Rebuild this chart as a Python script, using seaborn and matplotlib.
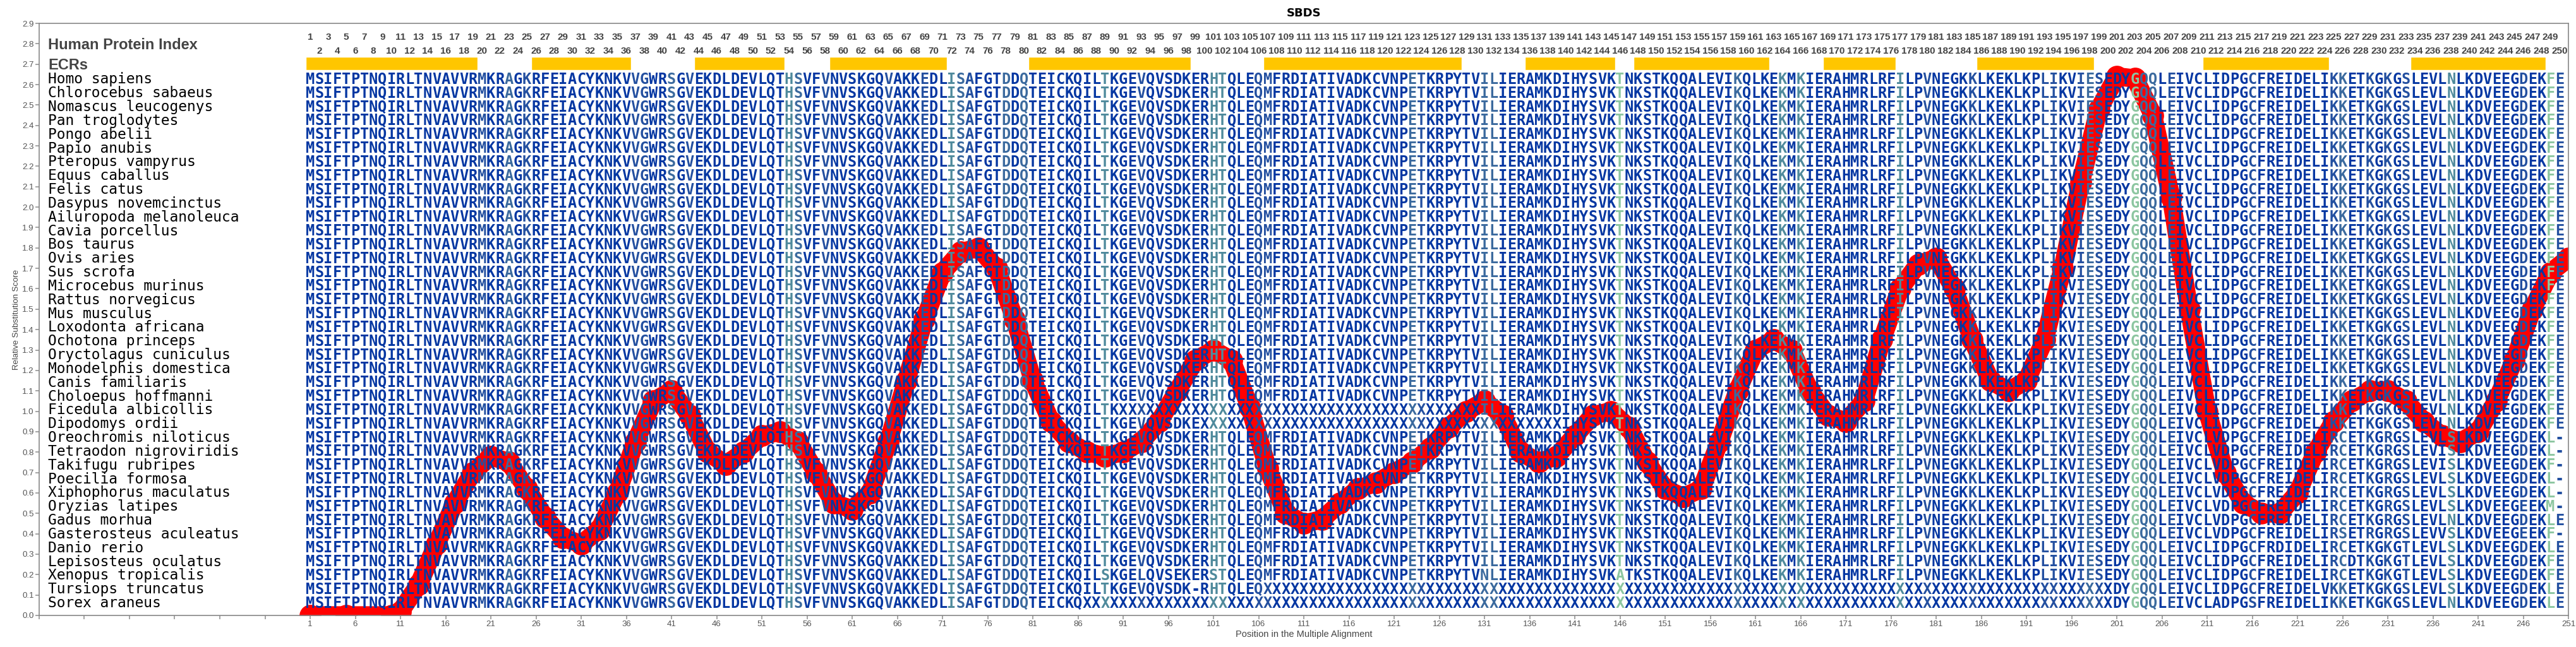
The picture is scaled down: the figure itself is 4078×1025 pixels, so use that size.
import numpy as np
import pandas as pd
import seaborn as sns
import matplotlib.pyplot as plt

# --- data ---
species = [
    "Homo sapiens", "Chlorocebus sabaeus", "Nomascus leucogenys", "Pan troglodytes",
    "Pongo abelii", "Papio anubis", "Pteropus vampyrus", "Equus caballus", "Felis catus",
    "Dasypus novemcinctus", "Ailuropoda melanoleuca", "Cavia porcellus", "Bos taurus",
    "Ovis aries", "Sus scrofa", "Microcebus murinus", "Rattus norvegicus", "Mus musculus",
    "Loxodonta africana", "Ochotona princeps", "Oryctolagus cuniculus",
    "Monodelphis domestica", "Canis familiaris", "Choloepus hoffmanni",
    "Ficedula albicollis", "Dipodomys ordii", "Oreochromis niloticus",
    "Tetraodon nigroviridis", "Takifugu rubripes", "Poecilia formosa",
    "Xiphophorus maculatus", "Oryzias latipes", "Gadus morhua",
    "Gasterosteus aculeatus", "Danio rerio", "Lepisosteus oculatus",
    "Xenopus tropicalis", "Tursiops truncatus", "Sorex araneus",
]

human_seq = ("MSIFTPTNQIRLTNVAVVRMKRAGKRFEIACYKNKVVGWRSGVEKDLDEV"
             "LQTHSVFVNVSKGQVAKKEDLISAFGTDDQTEICKQILTKGEVQVSDKER"
             "HTQLEQMFRDIATIVADKCVNPETKRPYTVILIERAMKDIHYSVKTNKST"
             "KQQALEVIKQLKEKMKIERAHMRLRFILPVNEGKKLKEKLKPLIKVIESE"
             "DYGQQLEIVCLIDPGCFREIDELIKKETKGKGSLEVLNLKDVEEGDEKFE")

# differences from the human row: species -> [(first position, residues)]
seq_patches = {
    "Ficedula albicollis": [(91, "X" * 40)],
    "Dipodomys ordii": [(100, "X" * 40)],
    "Oreochromis niloticus": [(212, "VDPGCFREIDELIRCETKGRGSLEVLSLKDVEEGDEKL-")],
    "Tetraodon nigroviridis": [(212, "VDPGCFREIDELIRCETKGRGSLEVISLKDVEEGDEKL-")],
    "Takifugu rubripes": [(212, "VDPGCFREIDELIRCETKGRGSLEVISLKDVEEGDEKF-")],
    "Poecilia formosa": [(212, "VDPGCFREIDELIRCETKGRGSLEVLSLKDVEEGDEKL-")],
    "Xiphophorus maculatus": [(212, "VDPGCFREIDELIRCETKGRGSLEVLSLKDVEEGDEKL-")],
    "Oryzias latipes": [(212, "VDPGCFREIDELIRCETKGRGSLEVLSLKDVEEGEEKM-")],
    "Gadus morhua": [(212, "VDPGCFREIDELIRCETKGRGSLEVLNLKDVEEGDEKLE")],
    "Gasterosteus aculeatus": [(212, "VDPGCFREIDELIRSETRGRGSLEVVSLKDVEEGEEKF-")],
    "Danio rerio": [(212, "IDPGCFRDIDELIRCETKGKGTLEVLSLKDVEEGDEKLE")],
    "Lepisosteus oculatus": [(212, "IDPGCFREIDELIRCDTKGKGTLEVLSLKDVEEGDEKFE")],
    "Xenopus tropicalis": [(86, "QILSKGELQVSEKERSTQLEQMFRDIATIVADKCVNPETKRPYTVNLIERAMKDIHYSVKAT"),
                           (212, "IDPGCFREIDELIRCETKGKGTLEVLSLKDVEEGDEKFE")],
    "Tursiops truncatus": [(99, "-"), (107, "X" * 94),
                           (212, "IDPGCFREIDELVKKETKGKGSLEVLSLKDVEEGDEKLE")],
    "Sorex araneus": [(87, "X" * 114),
                      (212, "ADPGSFREIDELIKKETKGKGSLEVLNLKDVEEGDEKLE")],
}

# conservation class of each alignment column (0 = fully conserved ... 4 = variable)
column_class = ("0000000000" "0000000001" "0020100000" "0000001100" "2010000000"
                "0003200100" "0000100010" "0321000202" "0000000030" "0010000000"
                "3300011000" "0000000000" "0021000000" "2200000000" "0000040000"
                "0000000020" "0003030000" "0000003001" "0000100000" "0011001210"
                "0042201000" "0000010000" "0000120010" "1010000300" "0000010041")

ecr_start = [1, 26, 44, 59, 81, 107, 136, 148, 169, 186, 211, 234]
ecr_end = [19, 36, 53, 71, 98, 128, 145, 162, 176, 198, 224, 248]

score_pos = [1, 5, 10, 11, 13, 15, 17, 19, 21, 23, 25, 27, 29, 31, 33, 35, 37, 39, 41, 43,
             45, 47, 49, 51, 53, 55, 57, 59, 61, 63, 65, 67, 69, 71, 73, 75, 77, 79, 81, 83,
             85, 87, 89, 91, 93, 95, 97, 99, 101, 103, 105, 107, 109, 111, 113, 115, 117, 119,
             121, 123, 125, 127, 129, 131, 133, 135, 137, 139, 141, 143, 145, 147, 149, 151,
             153, 155, 157, 159, 161, 163, 165, 167, 169, 171, 173, 175, 177, 179, 181, 183,
             185, 187, 189, 191, 193, 195, 197, 199, 201, 203, 205, 207, 209, 211, 213, 215,
             217, 219, 221, 223, 225, 227, 229, 231, 233, 235, 237, 239, 241, 243, 245, 247,
             249, 251]
score_val = [0, 0, 0, 0.02, 0.15, 0.35, 0.55, 0.7, 0.78, 0.75, 0.62, 0.48, 0.38, 0.35, 0.42,
             0.6, 0.85, 1.05, 1.1, 0.98, 0.8, 0.74, 0.8, 0.88, 0.9, 0.85, 0.7, 0.55, 0.52, 0.6,
             0.85, 1.15, 1.45, 1.68, 1.78, 1.8, 1.7, 1.45, 1.15, 0.95, 0.85, 0.8, 0.78, 0.8,
             0.85, 0.95, 1.1, 1.25, 1.3, 1.25, 1.02, 0.72, 0.5, 0.45, 0.47, 0.55, 0.62, 0.65,
             0.7, 0.75, 0.82, 0.92, 1.0, 1.05, 0.98, 0.8, 0.75, 0.78, 0.88, 0.98, 1.0, 0.92,
             0.75, 0.62, 0.58, 0.62, 0.85, 1.1, 1.3, 1.35, 1.3, 1.1, 0.98, 0.95, 1.05, 1.35,
             1.6, 1.72, 1.75, 1.6, 1.35, 1.15, 1.1, 1.15, 1.35, 1.7, 2.12, 2.48, 2.64, 2.63,
             2.45, 2.05, 1.5, 1.0, 0.7, 0.55, 0.5, 0.5, 0.6, 0.8, 0.95, 1.05, 1.1, 1.1, 1.05,
             0.95, 0.88, 0.85, 0.9, 1.05, 1.25, 1.5, 1.68, 1.75]

class_colors = ["#0537a2", "#2450a0", "#3b6a9e", "#4f8a9c", "#8cc6a0"]
gray = "#444444"
narrow = ["Liberation Sans Narrow", "Liberation Sans", "DejaVu Sans"]
wide = ["Liberation Sans", "DejaVu Sans"]


def build_row(name):
    row = list(human_seq)
    for start, res in seq_patches.get(name, []):
        row[start - 1:start - 1 + len(res)] = list(res)
    return "".join(row)


sns.set_theme(style="white")
plt.rcParams["font.family"] = ["DejaVu Sans"]

fig = plt.figure(figsize=(40.78, 10.25), dpi=100)
ax = fig.add_axes([0.0152, 0.0488, 0.9819, 0.9151])

# substitution score curve
df = pd.DataFrame({"pos": score_pos, "score": score_val})
sns.lineplot(data=df, x="pos", y="score", ax=ax, color="#ff0000", lw=21,
             marker="o", markersize=25, markeredgewidth=0, zorder=2)

# ECR bars
ax.barh(y=2.7035, width=np.array(ecr_end) - np.array(ecr_start) + 1,
        left=np.array(ecr_start) - 0.5, height=0.065, color="#ffc600", zorder=1)

# column numbers
for i in range(1, len(human_seq) + 1):
    ax.text(i, 2.832 if i % 2 else 2.764, str(i), ha="center", va="center",
            fontsize=11, fontweight="bold", color=gray, family=narrow, zorder=3)

ax.text(-28, 2.792, "Human Protein Index", ha="left", va="center", fontsize=17,
        fontweight="bold", color=gray, family=wide)
ax.text(-28, 2.693, "ECRs", ha="left", va="center", fontsize=17,
        fontweight="bold", color=gray, family=wide)

# alignment rows
row_y0, row_step = 2.625, 0.0675
for r, name in enumerate(species):
    y = row_y0 - r * row_step
    ax.text(-28, y, name, ha="left", va="center", fontsize=16.5,
            family="DejaVu Sans Mono", color="black")
    seq = build_row(name)
    for i, ch in enumerate(seq):
        ax.text(i + 1, y, ch, ha="center", va="center", fontsize=17,
                family="DejaVu Sans Mono", fontweight="bold",
                color=class_colors[int(column_class[i])], zorder=3)

ax.set_xlim(-29, 251)
ax.set_ylim(0, 2.9)
xt = np.arange(-29, 252, 5)
ax.set_xticks(xt)
ax.set_xticklabels([str(t) if t >= 1 else "" for t in xt], fontsize=9.5, color="#555555",
                   family=narrow)
yt = np.round(np.arange(0, 2.91, 0.1), 1)
ax.set_yticks(yt)
ax.set_yticklabels([f"{t:.1f}" for t in yt], fontsize=9.5, color="#555555", family=narrow)
ax.tick_params(axis="both", length=4, color="#999999", direction="out", pad=2)
ax.tick_params(axis="x", bottom=True)
ax.tick_params(axis="y", left=True)
for s in ax.spines.values():
    s.set_color("#888888")
    s.set_linewidth(1.2)

ax.set_xlabel("Position in the Multiple Alignment", fontsize=10.5, color="#444444",
              family=narrow, labelpad=2)
ax.set_ylabel("Relative Substitution Score", fontsize=9.5, color="#444444",
              family=narrow, labelpad=2)
ax.set_title("SBDS", fontsize=13, fontweight="bold", color="black", pad=8)

fig.savefig("out.png", dpi=100)
